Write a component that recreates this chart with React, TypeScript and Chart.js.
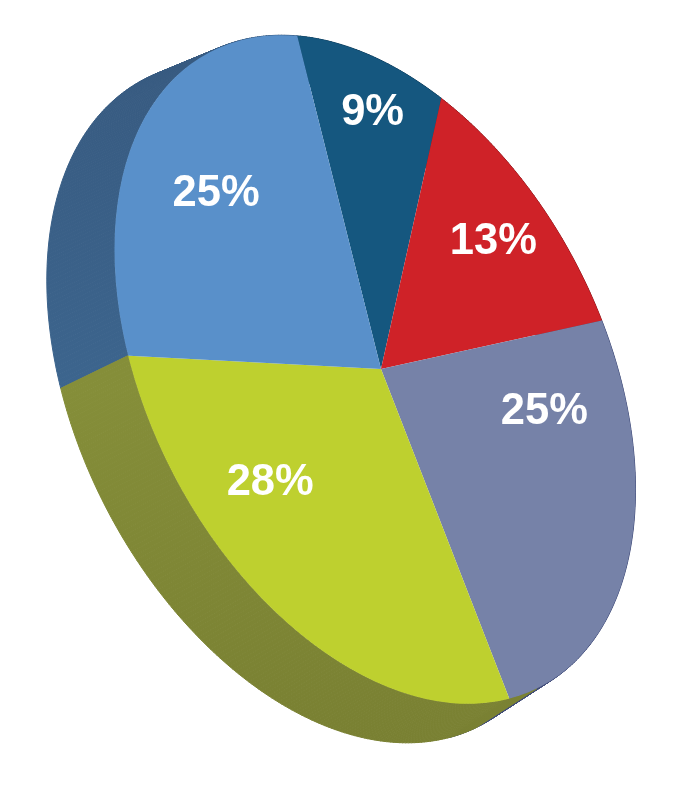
import React, { useEffect, useRef } from "react";
import { Chart, registerables } from "chart.js";

Chart.register(...registerables);

const sliceNames = ["Slice 1", "Slice 2", "Slice 3", "Slice 4", "Slice 5"];
const sliceValues = [9, 13, 25, 28, 25];
const faceColors = ["#15577f", "#cf2228", "#7682a8", "#bed02f", "#5990ca"];
const sideTopColors = ["#0f3d5c", "#8e1a1e", "#3f4a78", "#858e39", "#375a80"];
const sideBottomColors = ["#0f3d5c", "#8e1a1e", "#3f4a78", "#798032", "#3d668f"];
const sideDrawOrder = [0, 1, 2, 4, 3];
const sideLeadIn = [0, 0, 0, 0.13, 0];
const labelNudges = [
  [0, -30],
  [2, -2],
  [-14, -97],
  [-43, -69],
  [6, 5],
];

// Projection of the disc on the page. The hub of the slices sits a little
// off the centre of the rim, as it does in a perspective view.
const view = {
  rimX: 375,
  rimY: 369.5,
  hubX: 381,
  hubY: 369,
  xx: 260.5,
  yx: 120,
  yy: 312,
  overdraw: 1.06,
  backScale: 1.018,
  backX: -63,
  backY: 33,
};

const project = (unitX: number, unitY: number) => ({
  x: view.rimX + view.xx * unitX,
  y: view.rimY + view.yx * unitX + view.yy * unitY,
});

const hubUnit = () => {
  const x = (view.hubX - view.rimX) / view.xx;
  const y = (view.hubY - view.rimY - view.yx * x) / view.yy;
  return { x, y };
};

// Where a slice edge leaving the hub at this angle reaches the rim.
const rimUnit = (angle: number, fraction = 1) => {
  const h = hubUnit();
  const dx = Math.cos(angle);
  const dy = Math.sin(angle);
  const hd = h.x * dx + h.y * dy;
  const t = -hd + Math.sqrt(hd * hd - (h.x * h.x + h.y * h.y - 1));
  return { x: h.x + t * fraction * dx, y: h.y + t * fraction * dy };
};

const toBack = (p: { x: number; y: number }) => ({
  x: view.rimX + view.backX + (p.x - view.rimX) * view.backScale,
  y: view.rimY + view.backY + (p.y - view.rimY) * view.backScale,
});

const tiltedPie = {
  id: "tiltedPie",
  beforeDatasetsDraw(chart: any) {
    const ctx = chart.ctx;
    const arcs = chart.getDatasetMeta(0).data;
    const first = arcs[0];
    const radius = first.outerRadius;

    sideDrawOrder.forEach((i) => {
      const arc = arcs[i];
      const gradient = ctx.createLinearGradient(0, 60, 0, 745);
      gradient.addColorStop(i === 4 ? 0 : 0.48, sideTopColors[i]);
      gradient.addColorStop(i === 4 ? 0.52 : 1, sideBottomColors[i]);
      ctx.fillStyle = gradient;
      ctx.strokeStyle = gradient;
      ctx.lineWidth = 1;
      const start = arc.startAngle - sideLeadIn[i];
      const span = arc.endAngle - start;
      const steps = Math.max(8, Math.ceil(span * 80));
      for (let s = 0; s < steps; s++) {
        const a0 = start + (span * s) / steps;
        const a1 = start + (span * (s + 1)) / steps;
        const u0 = rimUnit(a0);
        const u1 = rimUnit(a1);
        const p0 = project(u0.x, u0.y);
        const p1 = project(u1.x, u1.y);
        const b0 = toBack(p0);
        const b1 = toBack(p1);
        ctx.beginPath();
        ctx.moveTo(p0.x, p0.y);
        ctx.lineTo(p1.x, p1.y);
        ctx.lineTo(b1.x, b1.y);
        ctx.lineTo(b0.x, b0.y);
        ctx.closePath();
        ctx.fill();
        ctx.stroke();
      }
    });

    ctx.save();
    // Limit the face to the rim, then lay the slices out from the hub.
    ctx.save();
    ctx.translate(view.rimX, view.rimY);
    ctx.transform(view.xx, view.yx, 0, view.yy, 0, 0);
    ctx.beginPath();
    ctx.arc(0, 0, 1, 0, Math.PI * 2);
    ctx.restore();
    ctx.clip();
    ctx.translate(view.hubX, view.hubY);
    const k = view.overdraw / radius;
    ctx.transform(view.xx * k, view.yx * k, 0, view.yy * k, 0, 0);
    ctx.translate(-first.x, -first.y);
  },
  afterDatasetsDraw(chart: any) {
    const ctx = chart.ctx;
    ctx.restore();
    const arcs = chart.getDatasetMeta(0).data;
    ctx.save();
    ctx.fillStyle = "#ffffff";
    ctx.font = 'bold 43.5px "Liberation Sans", Arial, sans-serif';
    ctx.textAlign = "center";
    ctx.textBaseline = "middle";
    arcs.forEach((arc: any, i: number) => {
      const mid = (arc.startAngle + arc.endAngle) / 2;
      const u = rimUnit(mid, 0.72);
      const p = project(u.x, u.y);
      ctx.fillText(`${sliceValues[i]}%`, p.x + labelNudges[i][0], p.y + labelNudges[i][1]);
    });
    ctx.restore();
  },
};

export default function App() {
  const ref = useRef<HTMLCanvasElement | null>(null);

  useEffect(() => {
    document.body.style.margin = "0";
    const chart = new Chart(ref.current as HTMLCanvasElement, {
      type: "pie",
      data: {
        labels: sliceNames,
        datasets: [
          {
            data: sliceValues,
            backgroundColor: faceColors,
            borderWidth: 0,
            clip: false,
          } as any,
        ],
      },
      options: {
        responsive: false,
        animation: false,
        rotation: -18.8,
        plugins: { legend: { display: false }, tooltip: { enabled: false } },
      },
      plugins: [tiltedPie],
    });
    return () => chart.destroy();
  }, []);

  return <canvas ref={ref} width={674} height={800} style={{ display: "block" }} />;
}
